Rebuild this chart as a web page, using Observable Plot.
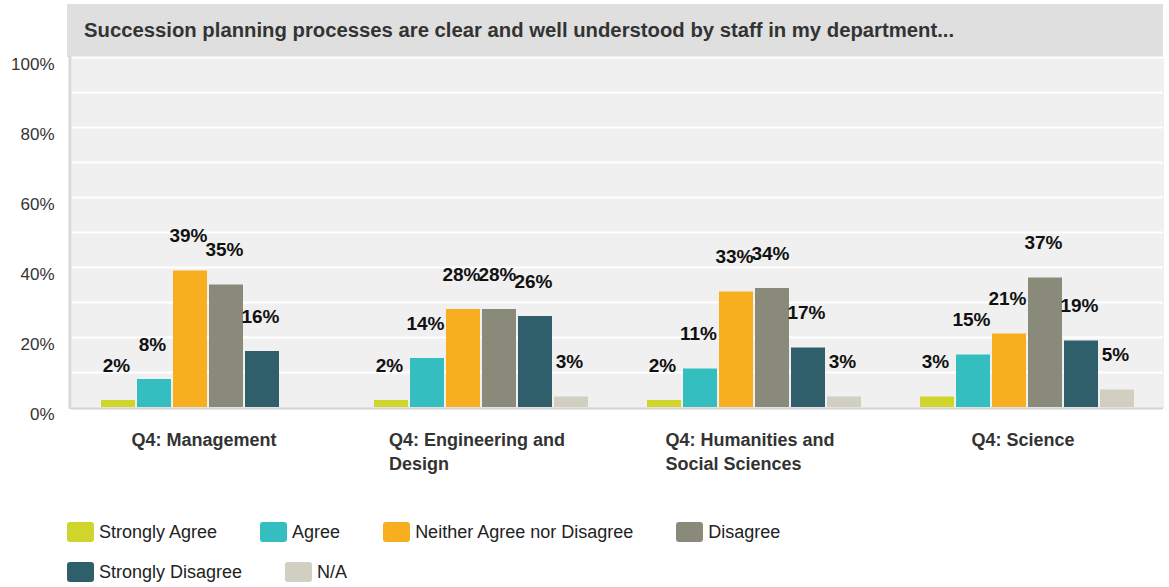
<!DOCTYPE html>
<html><head><meta charset="utf-8">
<script src="https://cdn.jsdelivr.net/npm/d3@7"></script>
<script src="https://cdn.jsdelivr.net/npm/@observablehq/plot@0.6"></script>
<style>
body{margin:0;background:#fff;font-family:"Liberation Sans",Arial,sans-serif;}
#title{margin:4px 0 0 67px;width:1079px;height:53px;background:#dfdfdf;color:#333;font-weight:bold;font-size:20.3px;line-height:53px;padding-left:17px;white-space:nowrap;}
#chart svg{display:block;}
#legend{display:flex;flex-wrap:wrap;width:880px;margin-left:67px;padding-top:7px;}
.item{display:flex;align-items:center;margin-right:43px;margin-bottom:20px;height:20px;font-size:18px;color:#222;}
.sw{width:27px;height:20px;border-radius:3px;margin-right:5px;}
</style></head><body>
<div id="title"></div><div id="chart"></div><div id="legend"></div>
<script>
const title = "Succession planning processes are clear and well understood by staff in my department...";
const categories = ["Q4: Management", "Q4: Engineering and Design", "Q4: Humanities and Social Sciences", "Q4: Science"];
const tickLabels = ["Q4: Management", "Q4: Engineering and\nDesign", "Q4: Humanities and\nSocial Sciences", "Q4: Science"];
const responses = ["Strongly Agree", "Agree", "Neither Agree nor Disagree", "Disagree", "Strongly Disagree", "N/A"];
const colors = ["#cfd52a", "#34bec0", "#f7af20", "#898a79", "#2f5f6b", "#d0cfc2"];
const management = [2, 8, 39, 35, 16, null];
const engineering = [2, 14, 28, 28, 26, 3];
const humanities = [2, 11, 33, 34, 17, 3];
const science = [3, 15, 21, 37, 19, 5];
const yTicks = [0, 20, 40, 60, 80, 100];
const yGrid = [10, 20, 30, 40, 50, 60, 70, 80, 90, 100];

const series = [management, engineering, humanities, science];
const data = categories.flatMap((c, i) => responses.map((r, j) => ({cat: c, resp: r, value: series[i][j]})))
  .filter(d => d.value != null);

document.getElementById("title").textContent = title;

const chart = Plot.plot({
  width: 1169, height: 458,
  marginTop: 0, marginBottom: 108, marginLeft: 70, marginRight: 6,
  style: {fontFamily: '"Liberation Sans", Arial, sans-serif', fontSize: "17px", color: "#333", overflow: "visible", background: "#fff"},
  fx: {domain: categories, padding: 0, label: null},
  x: {domain: responses, paddingInner: 0.065, paddingOuter: 0.8, axis: null},
  y: {domain: [0, 100], label: null},
  color: {domain: responses, range: colors},
  marks: [
    Plot.frame({fill: "#f0f0f0", stroke: "none", shapeRendering: "crispEdges"}),
    Plot.ruleY(yGrid, {stroke: "#fff", strokeWidth: 2}),
    Plot.ruleY([0], {stroke: "#d4d4d4", strokeWidth: 2, dy: 1}),
    Plot.frame({anchor: "left", fx: [categories[0]], stroke: "#d8d8d8", strokeWidth: 3, dx: -1.5}),
    Plot.barY(data, {fx: "cat", x: "resp", y: "value", fill: "resp"}),
    Plot.text(data, {fx: "cat", x: "resp", y: "value", text: d => d.value + "%", dy: -35, dx: -2, fontSize: 19, fontWeight: "bold", fill: "#111"}),
    Plot.axisY(yTicks, {tickSize: 0, tickPadding: 17, tickFormat: d => d + "%", fontSize: 17, dy: 7, fill: "#333", label: null}),
    Plot.axisFx({anchor: "bottom", tickSize: 0, tickPadding: 22, dx: -4, tickFormat: d => tickLabels[categories.indexOf(d)], fontSize: 18, fontWeight: "bold", lineHeight: 1.33, fill: "#333", label: null})
  ]
});
document.getElementById("chart").appendChild(chart);

d3.select(chart).selectAll('g[aria-label="fx-axis tick label"] text').each(function() {
  const t = d3.select(this);
  const tspans = t.selectAll("tspan");
  if (tspans.size() > 1) {
    const w = this.getBBox().width;
    t.attr("text-anchor", "start");
    tspans.attr("x", -w / 2);
  }
});

const legend = d3.select("#legend");
responses.forEach((r, i) => {
  const item = legend.append("div").attr("class", "item");
  item.append("div").attr("class", "sw").style("background", colors[i]);
  item.append("span").text(r);
});
</script>
</body></html>
